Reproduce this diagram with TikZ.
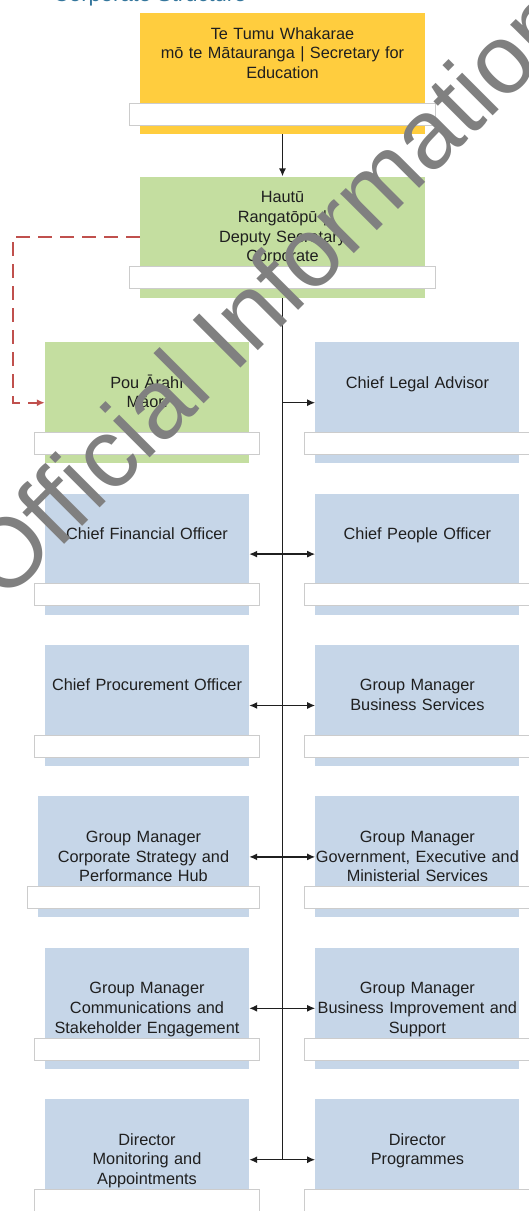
\documentclass[tikz,border=0pt]{standalone}
\usepackage{fontspec}
\setmainfont{Liberation Sans}
\usetikzlibrary{positioning,calc,arrows.meta}

\definecolor{secyellow}{RGB}{255,205,62}
\definecolor{dsgreen}{RGB}{196,222,160}
\definecolor{unitblue}{RGB}{198,214,232}
\definecolor{maorired}{RGB}{192,80,77}
\definecolor{titleblue}{RGB}{52,118,156}
\definecolor{stampgray}{RGB}{128,128,128}

\tikzset{
box/.style = {rectangle, inner sep=0pt, minimum height=121pt},
headbox/.style = {box, fill=secyellow, minimum width=285pt},
deputy/.style = {box, fill=dsgreen, minimum width=285pt},
maoribox/.style = {box, fill=dsgreen, minimum width=204pt},
unit/.style = {box, fill=unitblue, minimum width=204pt},
shelf/.style = {rectangle, fill=white, draw=black!20, line width=0.7pt, minimum height=22pt, inner sep=0pt},
role/.style = {anchor=base, text width=300pt, align=center, inner sep=0pt, text=black!88, font=\fontsize{16.3}{19.8}\selectfont},
wire/.style = {draw=black!88, line width=1.4pt},
stamp/.style = {rotate=45, inner sep=0pt, font=\fontsize{98}{98}\selectfont}
}

\begin{document}
\begin{tikzpicture}[x=1pt, y=-1pt, node distance=30pt, >={Latex[length=8pt,width=7pt]}]
\useasboundingbox (0,0) rectangle (528,1211);
\fill[white] (0,0) rectangle (528,1211);

% heading, cut off by the top edge
\node[anchor=base east, text=titleblue, font=\fontsize{22}{22}\selectfont] (title) at (250,1.5) {Corporate Structure};

% boxes
\node[headbox, anchor=north] (sec) at (282.5,13) {};
\node[deputy, below=42pt of sec] (dep) {};
\node[maoribox, anchor=north] (pou) at (147,342) {};
\node[unit, right=66pt of pou] (legal) {};
\node[unit, below=of pou] (cfo) {};
\node[unit, below=of legal] (cpeo) {};
\node[unit, below=of cfo] (cpo) {};
\node[unit, below=of cpeo] (bs) {};
\node[unit, below=of cpo, minimum width=211pt, xshift=-3.5pt] (cs) {};
\node[unit, below=of bs] (gem) {};
\node[unit, below=of cs, xshift=3.5pt] (comms) {};
\node[unit, below=of gem] (bi) {};
\node[unit, below=of comms] (dma) {};
\node[unit, below=of bi] (dp) {};

% white name plates near the bottom of each box
\foreach \b in {sec,dep,pou,legal,cfo,cpeo,cpo,bs,cs,gem,comms,bi,dma,dp}
  \path let \p1 = ($(\b.east)-(\b.west)$) in
    node[shelf, minimum width=\x1+21pt] (\b-shelf) at ([yshift=20pt]\b.south) {};

% titles
\node[role] (sec-txt) at ([yshift=-26pt]sec.north) {Te Tumu Whakarae\\mō te Mātauranga | Secretary for\\Education};
\node[role] (dep-txt) at ([yshift=-26pt]dep.north) {Hautū\\Rangatōpū |\\Deputy Secretary\\Corporate};
\node[role] (pou-txt) at ([yshift=-46pt]pou.north) {Pou Ārahī\\Māori};
\node[role] (legal-txt) at ([yshift=-46pt]legal.north) {Chief Legal Advisor};
\node[role] (cfo-txt) at ([yshift=-46pt]cfo.north) {Chief Financial Officer};
\node[role] (cpeo-txt) at ([yshift=-46pt]cpeo.north) {Chief People Officer};
\node[role] (cpo-txt) at ([yshift=-46pt]cpo.north) {Chief Procurement Officer};
\node[role] (bs-txt) at ([yshift=-46pt]bs.north) {Group Manager\\Business Services};
\node[role] (cs-txt) at ([yshift=-46pt]cs.north) {Group Manager\\Corporate Strategy and\\Performance Hub};
\node[role] (gem-txt) at ([yshift=-46pt]gem.north) {Group Manager\\Government, Executive and\\Ministerial Services};
\node[role] (comms-txt) at ([yshift=-46pt]comms.north) {Group Manager\\Communications and\\Stakeholder Engagement};
\node[role] (bi-txt) at ([yshift=-46pt]bi.north) {Group Manager\\Business Improvement and\\Support};
\node[role] (dma-txt) at ([yshift=-46pt]dma.north) {Director\\Monitoring and\\Appointments};
\node[role] (dp-txt) at ([yshift=-46pt]dp.north) {Director\\Programmes};

% reporting lines
\coordinate (spine-end) at (dep.south |- dp.west);
\draw[wire, ->] (sec) -- (dep);
\draw[wire] (dep.south) -- (spine-end);
\draw[wire, ->] (dep.south |- legal.west) -- (legal.west);
\foreach \l/\r in {cfo/cpeo, cpo/bs, cs/gem, comms/bi, dma/dp}
  \draw[wire, <->] (\l.east) -- (\r.west);
\draw[maorired, line width=1.6pt, dash pattern=on 14pt off 8pt, ->] (dep.west) -- ++(-127,0) |- (pou.west);

% stamp across the chart
\node[stamp, text=stampgray] (stamp) at (268,291) {Official Information};
\end{tikzpicture}
\end{document}
